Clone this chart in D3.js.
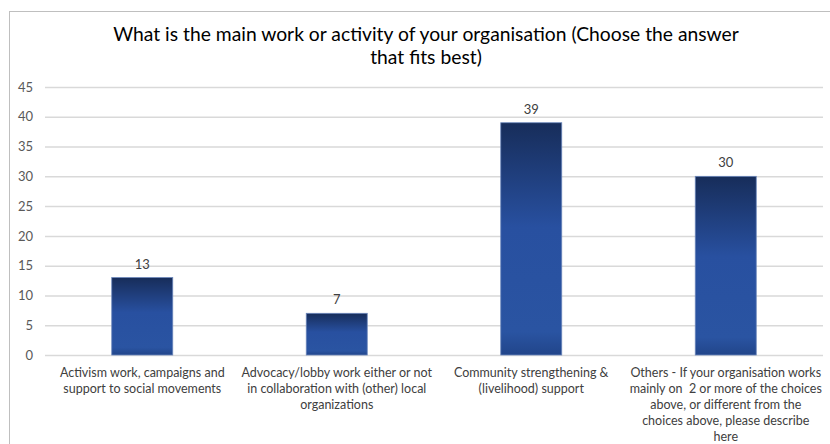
<!DOCTYPE html>
<html>
<head>
<meta charset="utf-8">
<script src="https://cdn.jsdelivr.net/npm/d3@7/dist/d3.min.js"></script>
<style>
  html, body { margin: 0; padding: 0; background: #fff; }
  svg { display: block; }
  text { font-family: Lato, "Open Sans", sans-serif; white-space: pre; }
</style>
</head>
<body>
<svg id="chart" width="830" height="444"></svg>
<script>
// Survey question, answer categories (one entry per wrapped label line) and counts
const titleLines = [
  "What is the main work or activity of your organisation (Choose the answer",
  "that fits best)"
];
const categoryLines = [
  ["Activism work, campaigns and", "support to social movements"],
  ["Advocacy/lobby work either or not", "in collaboration with (other) local", "organizations"],
  ["Community strengthening &", "(livelihood) support"],
  ["Others - If your organisation works", "mainly on  2 or more of the choices", "above, or different from the", "choices above, please describe", "here"]
];
const counts = [13, 7, 39, 30];
const yTicks = [0, 5, 10, 15, 20, 25, 30, 35, 40, 45];

const svg = d3.select("#chart");
const W = 830, H = 444;
const plot = { left: 45, right: 823, top: 87, bottom: 355 };

// Outer chart frame
svg.append("rect")
  .attr("x", 9.5).attr("y", 11.5)
  .attr("width", W + 10).attr("height", H + 10)
  .attr("fill", "#fff").attr("stroke", "#bfbfbf").attr("stroke-width", 1);

// Bar fill: dark navy at the top easing into mid blue
const defs = svg.append("defs");
const grad = defs.append("linearGradient")
  .attr("id", "barGrad").attr("x1", 0).attr("y1", 0).attr("x2", 0).attr("y2", 1);
[[0, "#172d5a"], [0.45, "#2850a0"], [0.9, "#2a54a2"], [1, "#21458a"]]
  .forEach(([o, c]) => grad.append("stop").attr("offset", o).attr("stop-color", c));

const x = d3.scaleBand()
  .domain(d3.range(counts.length))
  .range([plot.left, plot.right])
  .paddingInner(0).paddingOuter(0);

const y = d3.scaleLinear().domain([0, 45]).range([plot.bottom, plot.top]);

// Title
svg.append("g").selectAll("text")
  .data(titleLines).join("text")
  .attr("x", 426).attr("y", (d, i) => 41 + i * 23)
  .attr("text-anchor", "middle")
  .attr("font-size", 19.3).attr("fill", "#000")
  .text(d => d);

// Gridlines and y tick labels
const yAxis = d3.axisLeft(y).tickValues(yTicks).tickSize(-(plot.right - plot.left)).tickPadding(10);
const gy = svg.append("g").attr("transform", `translate(${plot.left},0)`).call(yAxis);
gy.select(".domain").remove();
gy.selectAll(".tick line").attr("stroke", "#d9d9d9").attr("stroke-width", 1.5);
gy.selectAll(".tick text")
  .attr("x", -12)
  .attr("fill", "#595959").attr("font-size", 13)
  .attr("font-family", "Lato, 'Open Sans', sans-serif");

// Bars
const barW = 61;
svg.append("g").selectAll("rect")
  .data(counts).join("rect")
  .attr("x", (d, i) => x(i) + x.bandwidth() / 2 - barW / 2)
  .attr("y", d => y(d))
  .attr("width", barW)
  .attr("height", d => y(0) - y(d))
  .attr("fill", "url(#barGrad)")
  .attr("stroke", "#6a86bb").attr("stroke-width", 0.8);

// Value labels above bars
svg.append("g").selectAll("text")
  .data(counts).join("text")
  .attr("x", (d, i) => x(i) + x.bandwidth() / 2)
  .attr("y", d => y(d) - 9)
  .attr("text-anchor", "middle")
  .attr("font-size", 13).attr("fill", "#404040")
  .text(d => d);

// Category labels
const cat = svg.append("g").selectAll("g")
  .data(categoryLines).join("g")
  .attr("transform", (d, i) => `translate(${x(i) + x.bandwidth() / 2},0)`);
cat.selectAll("text")
  .data(d => d).join("text")
  .attr("x", 0).attr("y", (d, i) => 377 + i * 16)
  .attr("text-anchor", "middle")
  .attr("font-size", 12.5).attr("fill", "#404040")
  .text(d => d);
</script>
</body>
</html>
